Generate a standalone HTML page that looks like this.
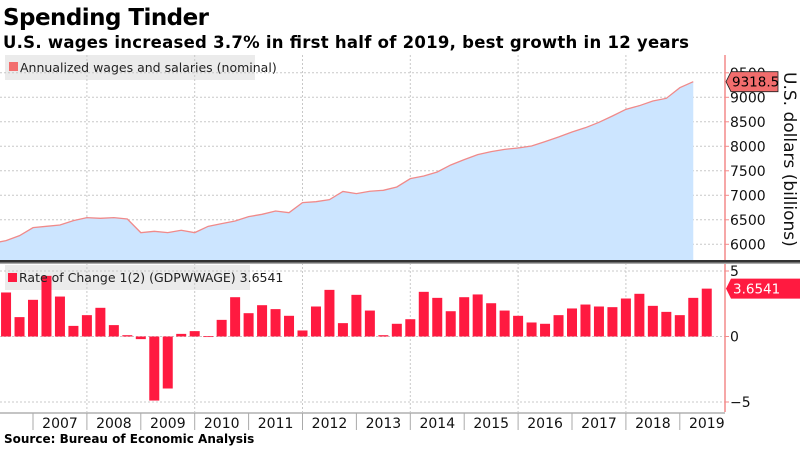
<!DOCTYPE html>
<html><head><meta charset="utf-8"><style>
body{margin:0;background:#fff;}
svg text{font-family:"DejaVu Sans","Liberation Sans",sans-serif;}
</style></head><body>
<svg id="chart" width="800" height="450" viewBox="0 0 800 450" xmlns="http://www.w3.org/2000/svg">
<text x="3" y="25" font-size="23" font-weight="bold" fill="#000" textLength="206">Spending Tinder</text>
<text x="3" y="48" font-size="16.5" font-weight="bold" fill="#000" textLength="686">U.S. wages increased 3.7% in first half of 2019, best growth in 12 years</text>
<g id="grid"></g>
<g id="topPanel"></g>
<g id="bottomPanel"></g>
<g id="axes"></g>
<text x="4" y="443" font-size="12" font-weight="bold" fill="#000">Source: Bureau of Economic Analysis</text>
</svg>
<script>
const lineQuarters = [2006.0,2006.25,2006.5,2006.75,2007,2007.25,2007.5,2007.75,2008,2008.25,2008.5,2008.75,2009,2009.25,2009.5,2009.75,2010,2010.25,2010.5,2010.75,2011,2011.25,2011.5,2011.75,2012,2012.25,2012.5,2012.75,2013,2013.25,2013.5,2013.75,2014,2014.25,2014.5,2014.75,2015,2015.25,2015.5,2015.75,2016,2016.25,2016.5,2016.75,2017,2017.25,2017.5,2017.75,2018,2018.25,2018.5,2018.75,2019,2019.25];
const wages = [5970,6020,6075,6177,6340,6367,6394,6483,6544,6530,6544,6517,6238,6265,6238,6286,6238,6367,6422,6476,6564,6612,6680,6646,6850,6870,6911,7078,7034,7082,7102,7170,7340,7394,7476,7619,7728,7830,7891,7938,7966,8006,8095,8190,8292,8380,8489,8618,8754,8829,8924,8979,9196,9318.5];
const rateChange = [3.36,1.48,2.8,4.63,3.05,0.81,1.63,2.19,0.87,0.1,-0.2,-4.89,-3.97,0.2,0.41,0.02,1.27,3.0,1.78,2.39,2.09,1.58,0.46,2.29,3.56,1.02,3.18,1.98,0.1,0.97,1.32,3.41,2.95,1.93,3.0,3.21,2.54,1.98,1.58,1.07,0.97,1.63,2.14,2.44,2.29,2.24,2.9,3.26,2.34,1.88,1.63,2.95,3.6541];
const years = [2007,2008,2009,2010,2011,2012,2013,2014,2015,2016,2017,2018,2019];
const topTicks = [6000,6500,7000,7500,8000,8500,9000,9500];
const bottomTicks = [5,0,-5];
const lastWage = "9318.5";
const lastRate = "3.6541";

const NS="http://www.w3.org/2000/svg";
const X0=725;
const x = t => 33 + (t-2007)*53.9;
const yTop = v => 244.3 - (v-6000)*0.049;
const yBot = v => 336.5 - v*13.1;
function mk(tag, attrs, parent){const e=document.createElementNS(NS,tag);for(const k in attrs)e.setAttribute(k,attrs[k]);parent.appendChild(e);return e;}
const grid=document.getElementById('grid'),gTop=document.getElementById('topPanel'),gBot=document.getElementById('bottomPanel'),axes=document.getElementById('axes');

const defs=mk('defs',{},grid);
const cp=mk('clipPath',{id:'cpTop'},defs);mk('rect',{x:0,y:55,width:X0,height:205},cp);

let lg=mk('rect',{x:5,y:55,width:250,height:25,fill:'#ebebeb'},grid);


lg=mk('rect',{x:5,y:265,width:245,height:25,fill:'#ebebeb'},grid);



topTicks.forEach(v=>{const l=mk('line',{x1:0,x2:X0,y1:yTop(v),y2:yTop(v),stroke:'#c8c8c8','stroke-dasharray':'2,2'},grid);

});
bottomTicks.forEach(v=>{const l=mk('line',{x1:0,x2:X0,y1:yBot(v),y2:yBot(v),stroke:'#c8c8c8','stroke-dasharray':'2,2'},grid);

});
years.filter(y=>y%2===0).forEach(y=>{const l=mk('line',{x1:x(y),x2:x(y),y1:55,y2:412,stroke:'#c8c8c8','stroke-dasharray':'2,2'},grid);

});

let d='M'+x(lineQuarters[0])+',260';
lineQuarters.forEach((q,i)=>{d+=' L'+x(q)+','+yTop(wages[i]);});
d+=' L'+x(lineQuarters[lineQuarters.length-1])+',260 Z';
const area=mk('path',{d:d,fill:'#cce5ff','clip-path':'url(#cpTop)'},gTop);


let ld='';lineQuarters.forEach((q,i)=>{ld+=(i?' L':'M')+x(q)+','+yTop(wages[i]);});
const line=mk('path',{d:ld,fill:'none',stroke:'#f08a8a','stroke-width':1.3,'clip-path':'url(#cpTop)'},gTop);



rateChange.forEach((v,i)=>{const cx=x(2006.5+i*0.25);const y1=Math.min(yBot(v),yBot(0)),h=Math.abs(yBot(v)-yBot(0));
const b=mk('rect',{x:cx-5,y:y1,width:10,height:Math.max(h,0.8),fill:'#ff1a40'},gBot);

});

let t=mk('rect',{x:9,y:62,width:9,height:9,fill:'#f26d6d'},axes);


t=mk('text',{x:20,y:72,'font-size':12.5,fill:'#222'},axes);t.textContent='Annualized wages and salaries (nominal)';


t=mk('rect',{x:8,y:273,width:9,height:9,fill:'#ff1a40'},axes);


t=mk('text',{x:19,y:282,'font-size':12.5,fill:'#222'},axes);t.textContent='Rate of Change 1(2) (GDPWWAGE) 3.6541';



t=mk('rect',{x:0,y:260,width:800,height:2.5,fill:'#333'},axes);


mk('rect',{x:0,y:262.5,width:800,height:1.5,fill:'#aaa'},axes);

t=mk('line',{x1:X0,x2:X0,y1:55,y2:260,stroke:'#f48a8a','stroke-width':1.5},axes);


t=mk('line',{x1:X0,x2:X0,y1:264,y2:412,stroke:'#f48a8a','stroke-width':1.5},axes);


topTicks.forEach(v=>{mk('line',{x1:X0,x2:X0+4,y1:yTop(v),y2:yTop(v),stroke:'#f48a8a'},axes);
const l=mk('text',{x:730,y:yTop(v)+5,'font-size':14,fill:'#111'},axes);l.textContent=v;

});
bottomTicks.forEach(v=>{mk('line',{x1:X0,x2:X0+4,y1:yBot(v),y2:yBot(v),stroke:'#f48a8a'},axes);
const l=mk('text',{x:730,y:yBot(v)+5,'font-size':14,fill:'#111'},axes);l.textContent=(v<0?'\u2212':'')+Math.abs(v);

});
t=mk('text',{x:0,y:0,'font-size':17,fill:'#111',transform:'translate(784,72) rotate(90)'},axes);t.textContent='U.S. dollars (billions)';



const wy=yTop(9318.5);
t=mk('path',{d:`M726,${wy} L731,${wy-10} L778,${wy-10} L778,${wy+10} L731,${wy+10} Z`,fill:'#f26d6d',stroke:'#222','stroke-width':0.8},axes);


t=mk('text',{x:732,y:wy+5,'font-size':13.5,fill:'#000'},axes);t.textContent=lastWage;


const ry=yBot(3.6541);
t=mk('path',{d:`M726,${ry} L731,${ry-10} L800,${ry-10} L800,${ry+10} L731,${ry+10} Z`,fill:'#ff1a40'},axes);


t=mk('text',{x:733,y:ry+5,'font-size':13.5,fill:'#fff'},axes);t.textContent=lastRate;



t=mk('line',{x1:0,x2:X0,y1:413,y2:413,stroke:'#888'},axes);


years.forEach(y=>{mk('line',{x1:x(y),x2:x(y),y1:413,y2:430,stroke:'#aaa'},axes);
const l=mk('text',{x:x(y)+27,y:428,'font-size':14,fill:'#111','text-anchor':'middle'},axes);l.textContent=y;

});
</script>
</body></html>
